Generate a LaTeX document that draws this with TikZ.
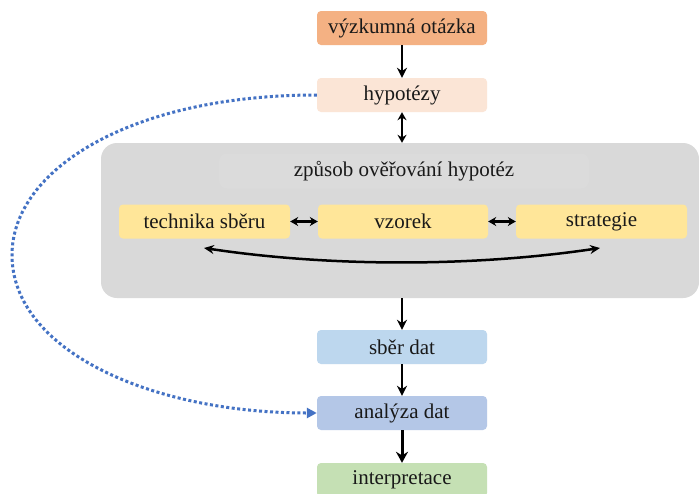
\documentclass[tikz,border=0pt]{standalone}
\usepackage{fontspec}
\setmainfont{Liberation Serif}
\usetikzlibrary{arrows.meta}
\definecolor{cOrange}{HTML}{F4B183}
\definecolor{cPeach}{HTML}{FBE5D6}
\definecolor{cGray}{HTML}{D9D9D9}
\definecolor{cTitle}{HTML}{DBDBDB}
\definecolor{cYellow}{HTML}{FFE699}
\definecolor{cBlue1}{HTML}{BDD7EE}
\definecolor{cBlue2}{HTML}{B4C7E7}
\definecolor{cGreen}{HTML}{C5E0B4}
\definecolor{cDot}{HTML}{4472C4}
\tikzset{
  txt/.style={font=\fontsize{21}{25}\selectfont, text=black!90},
  box/.style={txt, rounded corners=4pt, minimum width=170pt, minimum height=34pt, inner sep=0pt},
  arr/.style={line width=2.5pt, -{Stealth[length=10pt,width=10pt]}},
  darr/.style={line width=2.5pt, {Stealth[length=8pt,width=9pt]}-{Stealth[length=8pt,width=9pt]}},
}
\begin{document}
\begin{tikzpicture}[x=1pt,y=-1pt]
\useasboundingbox (0,0) rectangle (699,493);
\fill[white] (0,0) rectangle (699,493);
% container
\node[fill=cGray, rounded corners=16pt, minimum width=598pt, minimum height=155pt, inner sep=0pt] (cont) at (400,220.5) {};
\node[txt, fill=cTitle, rounded corners=8pt, minimum width=370pt, minimum height=35pt, inner sep=0pt] (title) at (404,171) {způsob ověřování hypotéz};
\node[box, fill=cOrange] (q) at (402,28) {výzkumná otázka};
\node[box, fill=cPeach] (h) at (402,95) {hypotézy};
\node[box, fill=cYellow, minimum width=171pt] (t) at (204.5,221.5) {technika sběru};
\node[box, fill=cYellow, minimum width=170pt] (v) at (403,221.5) {vzorek};
\node[box, fill=cYellow, minimum width=171pt] (s) at (601.5,221.5) {strategie};
\node[box, fill=cBlue1] (sd) at (402,347) {sběr dat};
\node[box, fill=cBlue2] (ad) at (402,413) {analýza dat};
\node[box, fill=cGreen] (ip) at (402,480) {interpretace};
% arrows
\draw[arr] (q.south) -- (h.north);
\draw[darr] (h.south) -- (cont.north -| h.south);
\draw[arr] (cont.south -| sd.north) -- (sd.north);
\draw[arr] (sd.south) -- (ad.north);
\draw[line width=3pt, -{Stealth[length=11pt,width=12pt]}] (ad.south) -- (ip.north);
\draw[darr] (t.east) -- (v.west);
\draw[darr] (v.east) -- (s.west);
\coordinate (tb) at (204,248);
\coordinate (sb) at (600,248);
\draw[line width=2.5pt, {Stealth[length=10pt,width=9pt]}-{Stealth[length=10pt,width=9pt]}] (tb) .. controls (330,267) and (473,267) .. (sb);
% dotted feedback
\coordinate (far) at (12,255);
\draw[cDot, line width=3pt, dash pattern=on 3pt off 2.5pt, -{Triangle[length=10pt,width=10pt]}]
  (h.west) .. controls (130,95) and (12,170) .. (far)
  .. controls (12,350) and (150,413) .. (ad.west);
\end{tikzpicture}
\end{document}
